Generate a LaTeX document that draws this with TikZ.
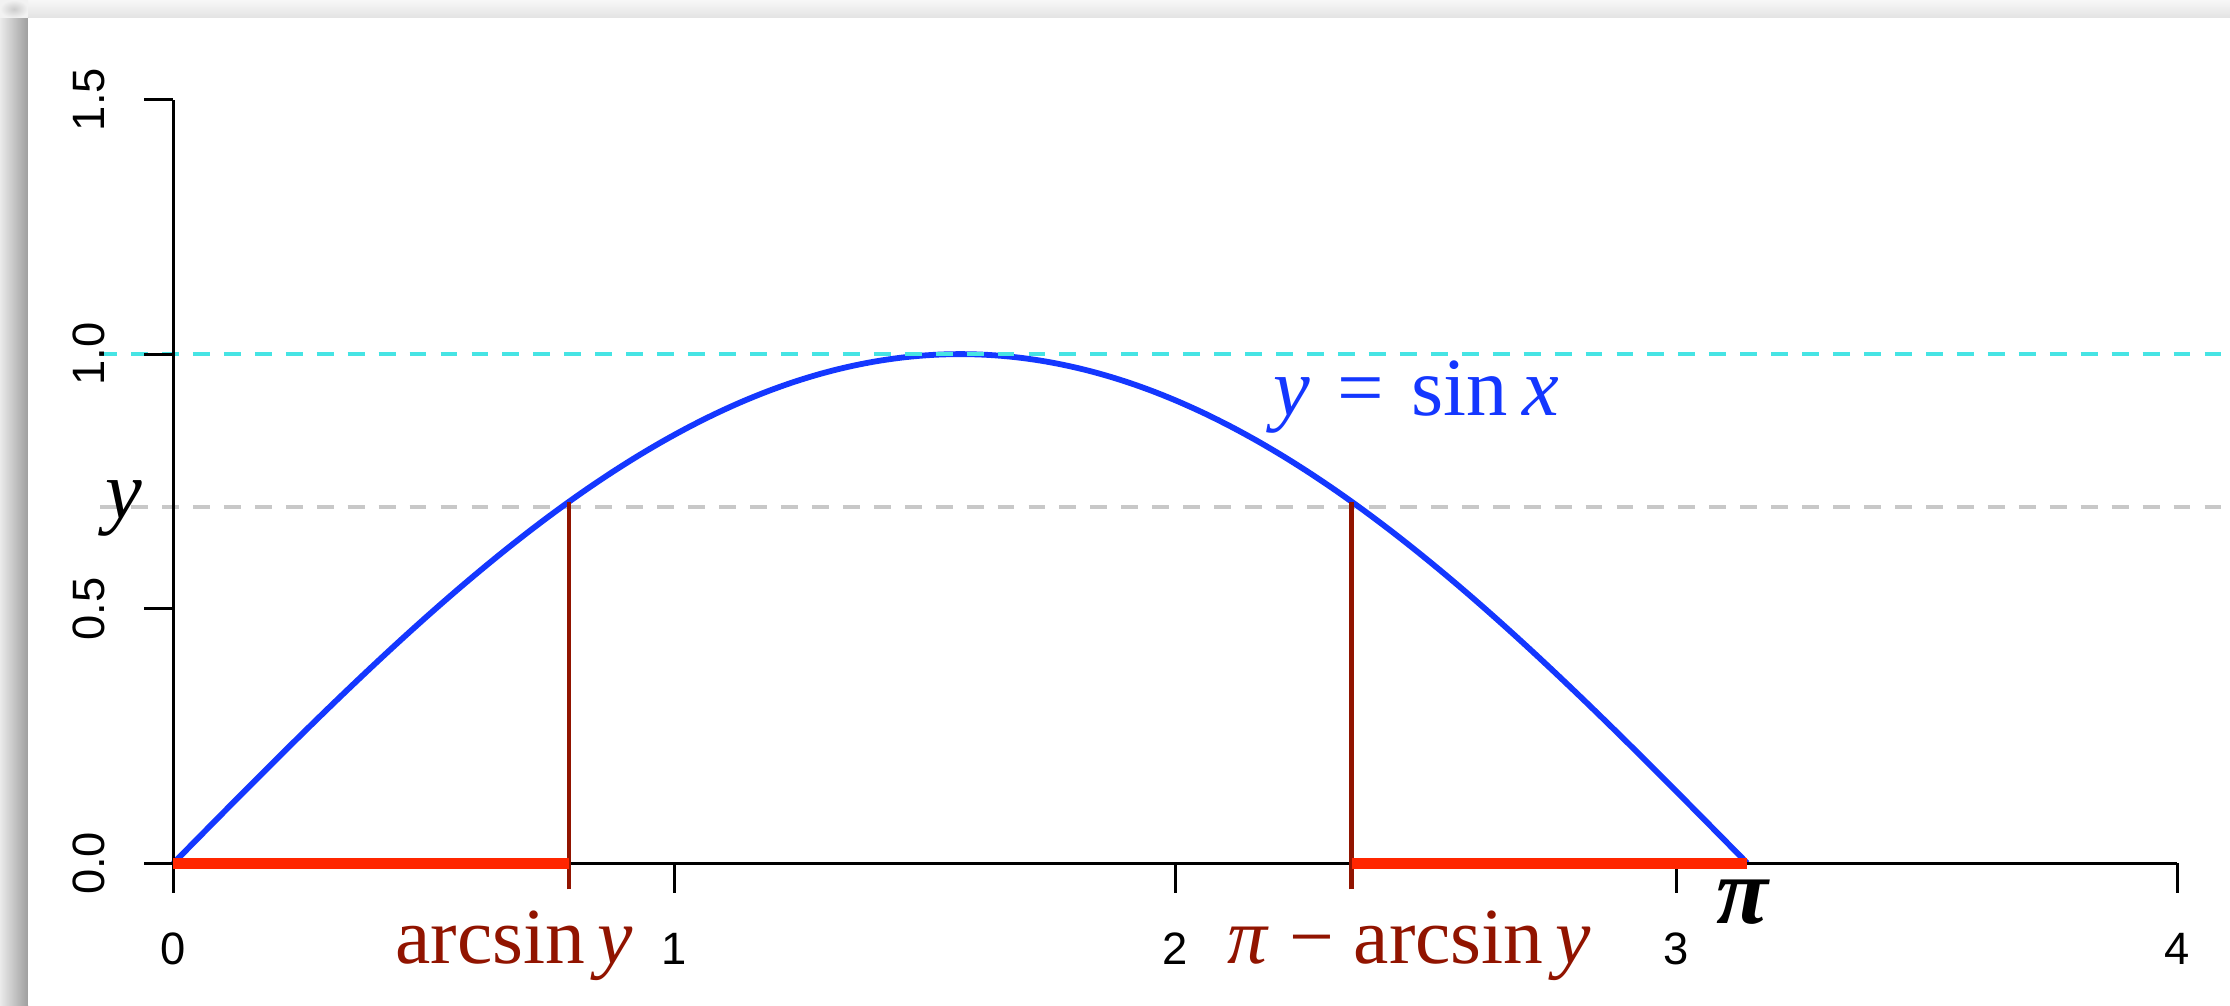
\documentclass[tikz,border=0pt]{standalone}
\usepackage{fontspec}
\setmainfont{Liberation Serif}
\newfontfamily\ticksfont{Liberation Sans}
\definecolor{curveblue}{RGB}{20,55,255}
\definecolor{barred}{RGB}{255,38,0}
\definecolor{darkred}{RGB}{145,20,0}
\definecolor{dashcyan}{RGB}{70,228,228}
\definecolor{dashgray}{RGB}{200,200,200}
\tikzset{
  axisline/.style={line width=0.9pt, black},
  ticklab/.style={font=\ticksfont\fontsize{12.9}{15}\selectfont, inner sep=0pt},
  biglab/.style={font=\fontsize{23.5}{27}\selectfont, inner sep=0pt},
  redlab/.style={font=\fontsize{22.6}{26}\selectfont, inner sep=0pt, text=darkred},
  refline/.style={line width=0.95pt, dash pattern=on 4.8pt off 4pt},
  marker/.style={line width=1.3pt, darkred},
  bar/.style={line width=3.1pt, barred},
  curve/.style={line width=1.65pt, curveblue}
}
\begin{document}
\begin{tikzpicture}[x=0.01cm,y=0.01cm]
\useasboundingbox (0,0) rectangle (2230,1005);
% shadow frame
\fill[white] (0,0) rectangle (2230,1005);
\shade[top color=white!97!black, bottom color=white!89!black] (0,987) rectangle (2230,1005);
\shade[left color=white!92!black, right color=white!62!black] (0,0) rectangle (28,987);
\shade[inner color=white!80!black, outer color=white!95!black] (0,987) rectangle (28,1005);
\fill[white] (28,0) rectangle (2230,987);
\begin{scope}[shift={(173.3,141.7)}, x=5.0075cm, y=5.089cm]
  % named coordinates
  \coordinate (O) at (0,0);
  \coordinate (Xend) at (4,0);
  \coordinate (Yend) at (0,1.5);
  \coordinate (a) at (0.79,0);
  \coordinate (b) at (2.352,0);
  \coordinate (pi) at (3.14159,0);
  % reference lines
  \draw[refline, dashgray] (-0.146,0.7) -- (4.11,0.7);
  % curve
  \draw[curve, domain=0:3.14159, samples=120, smooth] plot (\x,{sin(\x r)});
  \draw[refline, dashcyan] (-0.146,1) -- (4.11,1);
  % axes
  \draw[axisline] (O) -- (Xend);
  \draw[axisline] (O) -- (Yend);
  \foreach \t in {0,1,2,3,4} {
    \draw[axisline] (\t,0) -- ++(0,-0.059);
    \node[ticklab] (xt\t) at (\t,-0.168) {\t};
  }
  \foreach \t/\n in {0/0.0,0.5/0.5,1/1.0,1.5/1.5} {
    \draw[axisline] (0,\t) -- ++(-0.058,0);
    \node[ticklab, rotate=90] at (-0.168,\t) {\n};
  }
  % markers
  \draw[marker] ([yshift=-26*0.01cm]a) -- (0.79,{sin(0.79 r)});
  \draw[marker] ([yshift=-26*0.01cm]b) -- (2.352,{sin(2.352 r)});
  \draw[bar] (O) -- (a);
  \draw[bar] (b) -- (pi);
\end{scope}
% labels
\node[biglab, anchor=base] (ylab) at (124,487) {\textit{y}};
\node[biglab, anchor=base west, text=curveblue] (eq) at (1273,590) {\textit{y}\hspace{0.33em}=\hspace{0.33em}sin\hspace{0.17em}\textit{x}};
\node[redlab, anchor=base west] (asin) at (395,42) {arcsin\hspace{0.15em}\textit{y}};
\node[redlab, anchor=base west] (pasin) at (1227,42) {\textit{π}\hspace{0.25em}−\hspace{0.25em}arcsin\hspace{0.15em}\textit{y}};
\node[biglab, anchor=base, font=\fontsize{27}{30}\selectfont] (pilab) at (1743,82) {\textbf{\textit{π}}};
\end{tikzpicture}
\end{document}
